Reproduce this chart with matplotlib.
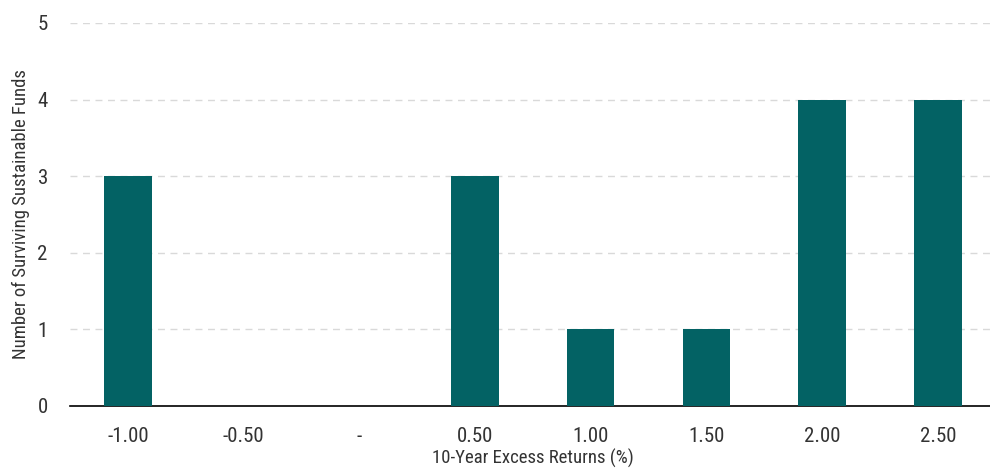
import matplotlib
matplotlib.use("Agg")
import matplotlib.pyplot as plt
from matplotlib import font_manager

# categories and fund counts
categories = ["-1.00", "-0.50", "-", "0.50", "1.00", "1.50", "2.00", "2.50"]
fund_counts = [3, 0, 0, 3, 1, 1, 4, 4]
y_ticks = [0, 1, 2, 3, 4, 5]

# narrow font if one is installed
installed = {f.name for f in font_manager.fontManager.ttflist}
condensed = [f.name for f in font_manager.fontManager.ttflist
             if f.stretch in ("condensed", "semi-condensed", "extra-condensed")
             or "Condensed" in f.name or "Narrow" in f.name]
choix = ["Roboto Condensed", "Liberation Sans Narrow", "Open Sans Condensed"] + condensed + ["Roboto"]
famille = next(n for n in choix if n in installed)
plt.rcParams["font.family"] = [famille, "DejaVu Sans"]
plt.rcParams["font.stretch"] = "condensed"

fig = plt.figure(figsize=(9.9, 4.68), dpi=100)
ax = fig.add_axes([0.0707, 0.1325, 0.935, 0.8185])

x = range(len(categories))
ax.bar(x, fund_counts, width=0.41, color="#036264", zorder=3)

ax.set_xlim(-0.5, len(categories) - 0.5)
ax.set_ylim(0, 5)
ax.set_xticks(list(x))
ax.set_xticklabels(categories)
ax.set_yticks(y_ticks)

ax.grid(axis="y", color="#d9d9d9", linestyle=(0, (5, 4)), linewidth=1, zorder=0)
for side in ["top", "right", "left"]:
    ax.spines[side].set_visible(False)
ax.spines["bottom"].set_color("black")
ax.spines["bottom"].set_linewidth(1.2)
ax.tick_params(axis="both", length=0, labelsize=15, colors="#333333")
ax.tick_params(axis="x", pad=15)
ax.tick_params(axis="y", pad=16)

ax.set_xlabel("10-Year Excess Returns (%)", fontsize=13.5, color="#333333", labelpad=2)
ax.set_ylabel("Number of Surviving Sustainable Funds", fontsize=13.5, color="#333333", labelpad=5)

fig.savefig("out.png", dpi=100)
